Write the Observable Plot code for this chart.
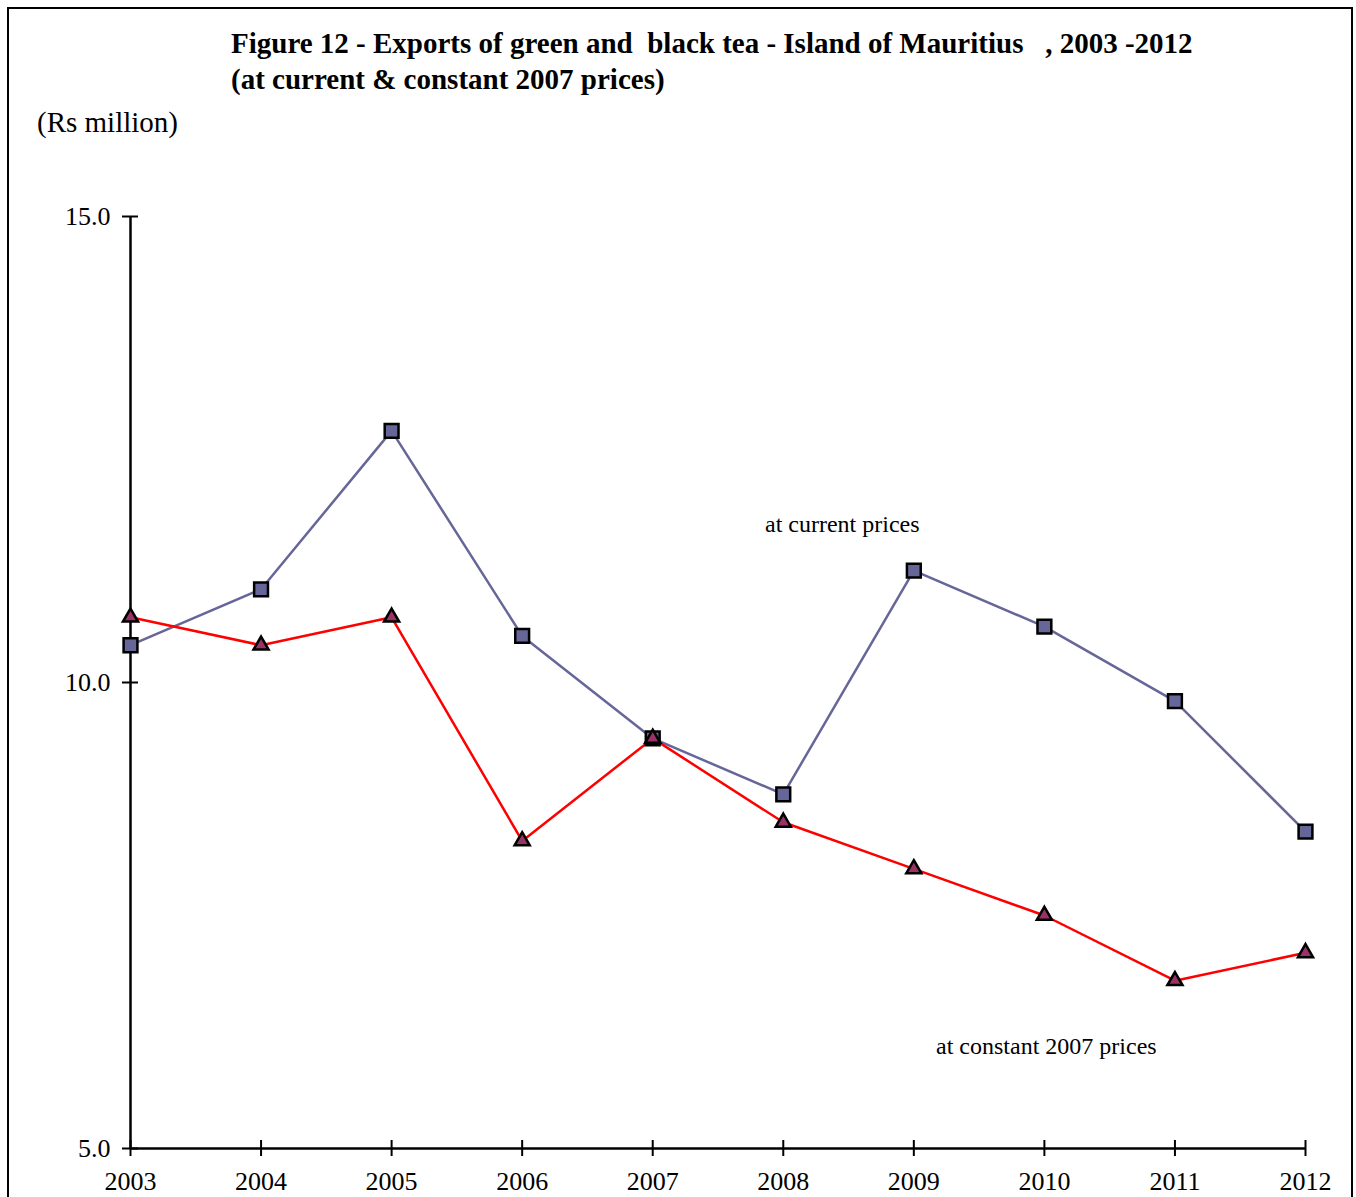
<!DOCTYPE html>
<html>
<head>
<meta charset="utf-8">
<script src="https://cdn.jsdelivr.net/npm/d3@7"></script>
<script src="https://cdn.jsdelivr.net/npm/@observablehq/plot@0.6"></script>
<style>
  html, body { margin: 0; padding: 0; background: #fff; overflow: hidden; }
  #wrap { position: relative; width: 1356px; height: 1197px; overflow: hidden; font-family: "Liberation Serif", "Times New Roman", serif; }
  #frame { position: absolute; left: 7px; top: 7px; width: 1346px; height: 1300px; border: 2px solid #000; box-sizing: border-box; }
  .title { position: absolute; left: 231px; font-weight: bold; font-size: 29px; white-space: pre; line-height: 1; color: #000; }
  #unit { position: absolute; left: 37px; top: 108px; font-size: 29px; line-height: 1; white-space: pre; }
  #chart { position: absolute; left: 0; top: 0; }
</style>
</head>
<body>
<div id="wrap">
  <div id="frame"></div>
  <div class="title" style="top:29px">Figure 12 - Exports of green and  black tea - Island of Mauritius   , 2003 -2012</div>
  <div class="title" style="top:65px">(at current &amp; constant 2007 prices)</div>
  <div id="unit">(Rs million)</div>
  <div id="chart"></div>
</div>
<script>
const years = [2003, 2004, 2005, 2006, 2007, 2008, 2009, 2010, 2011, 2012];
const currentPrices = [10.4, 11.0, 12.7, 10.5, 9.4, 8.8, 11.2, 10.6, 9.8, 8.4];
const constantPrices = [10.7, 10.4, 10.7, 8.3, 9.4, 8.5, 8.0, 7.5, 6.8, 7.1];
const yTicks = [5, 10, 15];
const labelTexts = ["at current prices", "at constant 2007 prices"];
const labelX = [2007.86, 2009.17];
const labelY = [11.7, 6.1];

const cur = years.map((y, i) => ({year: y, value: currentPrices[i]}));
const con = years.map((y, i) => ({year: y, value: constantPrices[i]}));
const labels = labelTexts.map((t, i) => ({text: t, x: labelX[i], y: labelY[i]}));

const W = 1356, H = 1197;
const mL = 130, mR = 51, mT = 216, mB = 49;
const innerW = W - mL - mR, innerH = H - mT - mB;

const plot = Plot.plot({
  width: W,
  height: H,
  marginLeft: mL,
  marginRight: mR,
  marginTop: mT,
  marginBottom: mB,
  style: {fontFamily: "Liberation Serif, Times New Roman, serif", background: "transparent", overflow: "visible"},
  x: {type: "linear", domain: [2003, 2012]},
  y: {domain: [5, 15]},
  marks: [
    Plot.ruleX([2003], {stroke: "#000", strokeWidth: 2.5}),
    Plot.ruleY([5], {stroke: "#000", strokeWidth: 2.5}),
    Plot.tickY(yTicks, {y: d => d, stroke: "#000", strokeWidth: 2, insetLeft: -8, insetRight: innerW - 8}),
    Plot.tickX(years, {x: d => d, stroke: "#000", strokeWidth: 2, insetTop: innerH - 8, insetBottom: -8}),
    Plot.axisY(yTicks, {tickSize: 0, tickPadding: 20, tickFormat: d3.format(".1f"), fontSize: 26, fill: "#000", label: null}),
    Plot.axisX(years, {tickSize: 0, tickPadding: 23, tickFormat: d => String(d), fontSize: 26, fill: "#000", label: null}),
    Plot.line(cur, {x: "year", y: "value", stroke: "#666699", strokeWidth: 2.5}),
    Plot.line(con, {x: "year", y: "value", stroke: "#ff0000", strokeWidth: 2.5}),
    Plot.dot(cur, {x: "year", y: "value", symbol: "square", r: 7.8, fill: "#666699", stroke: "#000", strokeWidth: 2.5}),
    Plot.dot(con, {x: "year", y: "value", symbol: "triangle", r: 5.6, fill: "#993366", stroke: "#000", strokeWidth: 2.5}),
    Plot.text(labels, {x: "x", y: "y", text: "text", textAnchor: "start", fontSize: 24, fill: "#000"})
  ]
});
document.getElementById("chart").appendChild(plot);
</script>
</body>
</html>
